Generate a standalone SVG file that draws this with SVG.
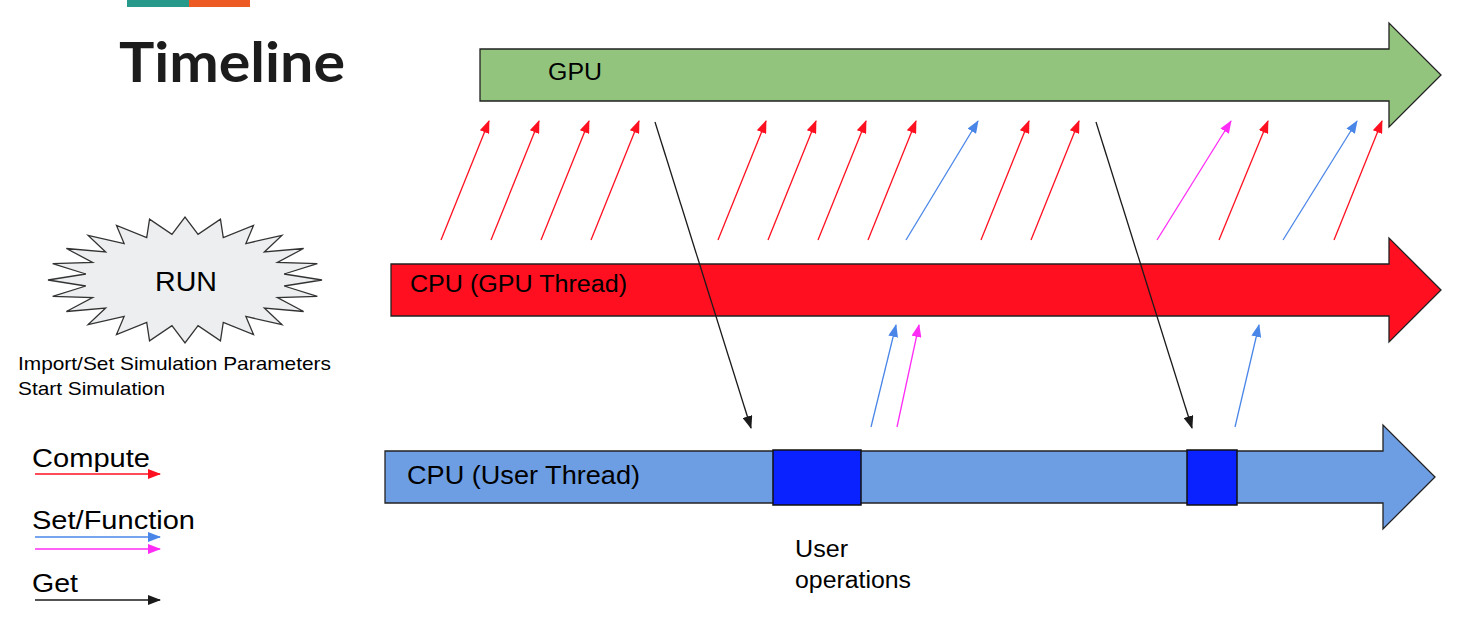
<svg xmlns="http://www.w3.org/2000/svg" width="1478" height="636" viewBox="0 0 1478 636">
<style>
.t{font-family:"Liberation Sans",Arial,sans-serif;fill:#000}
.band{stroke:#222;stroke-width:1.3}
.c{fill:none;stroke-width:1.3}
.r{stroke:#ff1020;marker-end:url(#mr)}
.b{stroke:#4a86e8;marker-end:url(#mb)}
.m{stroke:#ff2cf5;marker-end:url(#mm)}
.k{stroke:#1a1a1a;marker-end:url(#mk)}
</style>
<defs>
<marker id="mr" viewBox="0 0 13 10" refX="12" refY="5" markerWidth="13" markerHeight="10" markerUnits="userSpaceOnUse" orient="auto"><path d="M0,0L13,5L0,10z" fill="#ff1020"/></marker>
<marker id="mb" viewBox="0 0 13 10" refX="12" refY="5" markerWidth="13" markerHeight="10" markerUnits="userSpaceOnUse" orient="auto"><path d="M0,0L13,5L0,10z" fill="#4a86e8"/></marker>
<marker id="mm" viewBox="0 0 13 10" refX="12" refY="5" markerWidth="13" markerHeight="10" markerUnits="userSpaceOnUse" orient="auto"><path d="M0,0L13,5L0,10z" fill="#ff2cf5"/></marker>
<marker id="mk" viewBox="0 0 13 10" refX="12" refY="5" markerWidth="13" markerHeight="10" markerUnits="userSpaceOnUse" orient="auto"><path d="M0,0L13,5L0,10z" fill="#1a1a1a"/></marker>
</defs>
<rect width="1478" height="636" fill="#fff"/>
<g id="title">
<rect x="127" y="0" width="62" height="7" fill="#26998a"/>
<rect x="189" y="0" width="61" height="7" fill="#ee5a24"/>
<text x="119" y="82" font-family="Lato,'Open Sans',sans-serif" font-weight="700" font-size="55" fill="#1c1c1c" textLength="226" lengthAdjust="spacingAndGlyphs">Timeline</text>
</g>
<g id="gpu">
<path class="band" d="M480,49H1389V23L1441,75L1389,127V101H480Z" fill="#93c47d"/>
<text class="t" x="548" y="80" font-size="23" textLength="54" lengthAdjust="spacingAndGlyphs">GPU</text>
</g>
<g id="cpu-gpu-thread">
<path class="band" d="M391,264H1389V238L1441,290L1389,342V316H391Z" fill="#ff0f1f"/>
<text class="t" x="410" y="292" font-size="23" textLength="217" lengthAdjust="spacingAndGlyphs">CPU (GPU Thread)</text>
</g>
<g id="cpu-user-thread">
<path class="band" d="M385,451H1383V425L1435,477L1383,529V503H385Z" fill="#6d9ee3"/>
<text class="t" x="407" y="484" font-size="25" textLength="233" lengthAdjust="spacingAndGlyphs">CPU (User Thread)</text>
</g>
<g id="user-op-1"><rect x="773" y="450" width="88" height="55" fill="#0a22ff" stroke="#111" stroke-width="1.5"/></g>
<g id="user-op-2"><rect x="1187" y="450" width="50" height="55" fill="#0a22ff" stroke="#111" stroke-width="1.5"/></g>
<g id="user-op-label">
<text class="t" x="795" y="557" font-size="23" textLength="53" lengthAdjust="spacingAndGlyphs">User</text>
<text class="t" x="795" y="588" font-size="23" textLength="116" lengthAdjust="spacingAndGlyphs">operations</text>
</g>
<g id="run">
<polygon transform="translate(185,280) scale(1.37,0.63)" vector-effect="non-scaling-stroke" fill="#eceeef" stroke="#333" stroke-width="1.3" points="100,0 72.38,9.53 96.59,25.88 67.44,27.94 86.6,50 57.92,44.44 70.71,70.71 44.44,57.92 50,86.6 27.94,67.44 25.88,96.59 9.53,72.38 0,100 -9.53,72.38 -25.88,96.59 -27.94,67.44 -50,86.6 -44.44,57.92 -70.71,70.71 -57.92,44.44 -86.6,50 -67.44,27.94 -96.59,25.88 -72.38,9.53 -100,0 -72.38,-9.53 -96.59,-25.88 -67.44,-27.94 -86.6,-50 -57.92,-44.44 -70.71,-70.71 -44.44,-57.92 -50,-86.6 -27.94,-67.44 -25.88,-96.59 -9.53,-72.38 0,-100 9.53,-72.38 25.88,-96.59 27.94,-67.44 50,-86.6 44.44,-57.92 70.71,-70.71 57.92,-44.44 86.6,-50 67.44,-27.94 96.59,-25.88 72.38,-9.53"/>
<text class="t" x="186" y="291" font-size="28" text-anchor="middle" textLength="62" lengthAdjust="spacingAndGlyphs">RUN</text>
<text class="t" x="18" y="370" font-size="19" textLength="313" lengthAdjust="spacingAndGlyphs">Import/Set Simulation Parameters</text>
<text class="t" x="18" y="395" font-size="19" textLength="147" lengthAdjust="spacingAndGlyphs">Start Simulation</text>
</g>
<g id="legend">
<text class="t" x="32" y="467" font-size="26" textLength="118" lengthAdjust="spacingAndGlyphs">Compute</text>
<line class="c r" x1="35" y1="474" x2="160" y2="474"/>
<text class="t" x="32" y="529" font-size="26" textLength="163" lengthAdjust="spacingAndGlyphs">Set/Function</text>
<line class="c b" x1="35" y1="537" x2="160" y2="537"/>
<line class="c m" x1="35" y1="549" x2="160" y2="549"/>
<text class="t" x="32" y="592" font-size="26" textLength="46" lengthAdjust="spacingAndGlyphs">Get</text>
<line class="c k" x1="35" y1="600" x2="160" y2="600"/>
</g>
<g id="connectors">
<line class="c r" x1="441" y1="240" x2="489" y2="121"/>
<line class="c r" x1="491" y1="240" x2="539" y2="121"/>
<line class="c r" x1="541" y1="240" x2="589" y2="121"/>
<line class="c r" x1="591" y1="240" x2="639" y2="121"/>
<line class="c r" x1="718" y1="240" x2="766" y2="121"/>
<line class="c r" x1="768" y1="240" x2="816" y2="121"/>
<line class="c r" x1="818" y1="240" x2="866" y2="121"/>
<line class="c r" x1="868" y1="240" x2="916" y2="121"/>
<line class="c b" x1="906" y1="240" x2="978" y2="121"/>
<line class="c r" x1="981" y1="240" x2="1029" y2="121"/>
<line class="c r" x1="1031" y1="240" x2="1079" y2="121"/>
<line class="c m" x1="1157" y1="240" x2="1231" y2="121"/>
<line class="c r" x1="1219" y1="240" x2="1268" y2="121"/>
<line class="c b" x1="1283" y1="240" x2="1357" y2="121"/>
<line class="c r" x1="1334" y1="240" x2="1382" y2="121"/>
<line class="c k" x1="655" y1="122" x2="751" y2="428"/>
<line class="c k" x1="1096" y1="122" x2="1192" y2="428"/>
<line class="c b" x1="871" y1="427" x2="896" y2="325"/>
<line class="c m" x1="897" y1="427" x2="919" y2="325"/>
<line class="c b" x1="1235" y1="427" x2="1259" y2="325"/>
</g>
</svg>
